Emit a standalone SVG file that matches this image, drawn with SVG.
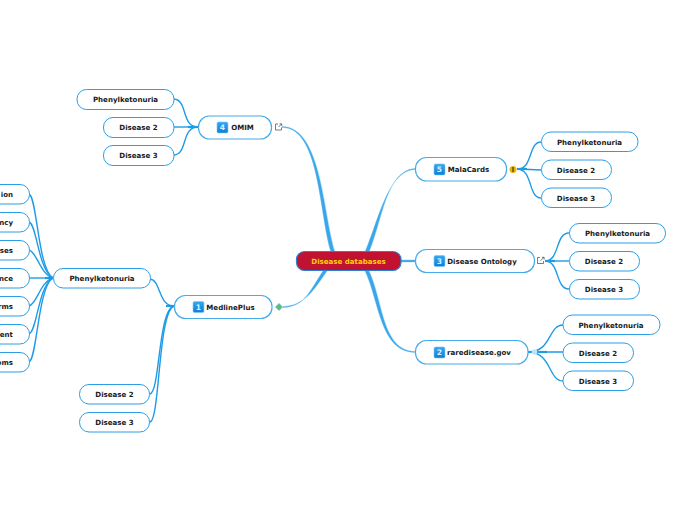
<svg xmlns="http://www.w3.org/2000/svg" width="696" height="520" viewBox="0 0 696 520">
<style>
text{font-family:"DejaVu Sans",Verdana,sans-serif;font-weight:bold;font-size:7.05px;fill:#1a1a1a;text-anchor:middle}
.e{text-anchor:end}
.n{fill:#fff;stroke:#2b9fe6;stroke-width:1}
.m{fill:#fff;stroke:#46ace9;stroke-width:1.2}
.c{fill:none;stroke:#1f9be6;stroke-width:1.4}
.s{fill:none;stroke:#1f9be6;stroke-width:2.2}
.t{fill:#3aa6ea;stroke:#6cc0f2;stroke-width:.4}
.b{fill:url(#bg);stroke:#7cc8f5;stroke-width:.6}
.bt{fill:#d9f0ff;font-size:7.6px}
.ic{fill:none;stroke:#444;stroke-width:.7}
</style>
<defs><linearGradient id="bg" x1="0" y1="0" x2="0" y2="1"><stop offset="0" stop-color="#35a8ee"/><stop offset="1" stop-color="#0b7fd8"/></linearGradient></defs>
<g id="connectors">
<path class="t" d="M335 252C323 215 322 127 282 126.500L282 127.500C320 127 319 215 331 252Z"/>
<path class="t" d="M369 252C382 222 386 170 415 168.500L415 169.500C388 170 378 222 365 252Z"/>
<path class="t" d="M401 260H415V262H401Z"/>
<path class="t" d="M369 271C383 300 382 351 415 351.500V352.500C380 352 379 300 365 271Z"/>
<path class="t" d="M327 271C314 290 304 306 283 306.500V307.500C305 307 310 290 323 271Z"/>
<path class="c" d="M174 99C188 100 181 127 198 127"/>
<path class="c" d="M174 127H198"/>
<path class="c" d="M174 155C188 154 181 127 198 127"/>
<path class="s" d="M188 127H198"/>
<path class="c" d="M517 169C533 170 528 142 541 142"/>
<path class="c" d="M517 169C530 169 530 170 541 170"/>
<path class="c" d="M517 169C533 169 528 198 541 198"/>
<path class="s" d="M517 169H527"/>
<path class="c" d="M545 261C560 261 555 233 569 233"/>
<path class="c" d="M545 261C558 261 558 261 569 261"/>
<path class="c" d="M545 261C560 261 555 289 569 289"/>
<path class="s" d="M545 261H555"/>
<path class="c" d="M528 352C552 352 548 325 563 325"/>
<path class="c" d="M528 352H563"/>
<path class="c" d="M528 352C552 352 548 381 563 381"/>
<path class="s" d="M528 352H547"/>
<path class="c" d="M150 279C161 280 158 306 174 306"/>
<path class="c" d="M150 394C160 392 158 310 174 306"/>
<path class="c" d="M150 422C160 420 158 312 174 306"/>
<path class="s" d="M166 306H174"/>
<path class="c" d="M29 194C37 196 38 270 53 278"/>
<path class="c" d="M29 222C37 224 38 270 53 278"/>
<path class="c" d="M29 250C37 252 40 274 53 278"/>
<path class="c" d="M29 278H53"/>
<path class="c" d="M29 306C37 304 40 282 53 278"/>
<path class="c" d="M29 334C37 332 38 286 53 278"/>
<path class="c" d="M29 362C37 360 38 286 53 278"/>
<path class="s" d="M45 278H53"/>
</g>
<g id="root"><rect x="296.500" y="251.500" width="104.500" height="19" rx="8" fill="#c11232" stroke="#2e7fd0" stroke-width="1.200"/><text x="348.500" y="263.800" style="fill:#ffd400">Disease databases</text></g>
<g id="malacards"><rect class="m" x="415.500" y="157.500" width="91" height="23.500" rx="11"/><rect class="b" x="434" y="164" width="11" height="11" rx="1.500"/><text class="bt" x="439.500" y="172.300">5</text><text x="468.500" y="172">MalaCards</text><circle cx="513" cy="169.500" r="3.500" fill="#eab308"/><rect x="512" y="167" width="2" height="5" fill="#7a6a10"/></g>
<g id="ontology"><rect class="m" x="415.500" y="249.500" width="119" height="23" rx="11"/><rect class="b" x="434" y="255.500" width="11" height="11" rx="1.500"/><text class="bt" x="439.500" y="263.800">3</text><text x="482" y="263.800">Disease Ontology</text><path class="ic" d="M540 257.500H537.500V263.500H543.500V261M540.500 260.500L544 257.500M542 257.300H544.200V259.500"/></g>
<g id="rare"><rect class="m" x="415.500" y="340.500" width="112.500" height="23.500" rx="11"/><rect class="b" x="434" y="347" width="11" height="11" rx="1.500"/><text class="bt" x="439.500" y="355.300">2</text><text x="479" y="355">raredisease.gov</text><circle cx="534.500" cy="352" r="2.800" fill="#bfe3f5"/></g>
<g id="medline"><rect class="m" x="174.500" y="295.500" width="97.500" height="23" rx="11"/><rect class="b" x="193" y="301.500" width="11" height="11" rx="1.500"/><text class="bt" x="198.500" y="309.800">1</text><text x="230.500" y="309.800">MedlinePlus</text><path d="M279 303.500L282.500 307L279 310.500L275.500 307Z" fill="#5cc06a" stroke="#62b6e8" stroke-width=".8"/></g>
<g id="omim"><rect class="m" x="198.500" y="116" width="73" height="23" rx="11"/><rect class="b" x="217" y="122" width="11" height="11" rx="1.500"/><text class="bt" x="222.500" y="130.300">4</text><text x="242.500" y="130">OMIM</text><path class="ic" d="M278 124H275.500V130H281.500V127.500M278.500 127L281.500 124M279.500 123.800H281.700V126"/></g>
<g id="o1"><rect class="n" x="77" y="89.500" width="97" height="20" rx="9.500"/><text x="125.500" y="102">Phenylketonuria</text></g>
<g id="o2"><rect class="n" x="103.500" y="117.500" width="70.500" height="20" rx="9.500"/><text x="138.500" y="130">Disease 2</text></g>
<g id="o3"><rect class="n" x="103.500" y="145.500" width="70.500" height="20" rx="9.500"/><text x="138.500" y="158">Disease 3</text></g>
<g id="m1"><rect class="n" x="541.500" y="132" width="96.500" height="19.500" rx="9.500"/><text x="589.500" y="144.500">Phenylketonuria</text></g>
<g id="m2"><rect class="n" x="541.500" y="160" width="70" height="19.500" rx="9.500"/><text x="576" y="172.500">Disease 2</text></g>
<g id="m3"><rect class="n" x="541.500" y="188" width="70" height="19.500" rx="9.500"/><text x="576" y="200.500">Disease 3</text></g>
<g id="d1"><rect class="n" x="569.500" y="223.500" width="96" height="19.500" rx="9.500"/><text x="617.500" y="236">Phenylketonuria</text></g>
<g id="d2"><rect class="n" x="569.500" y="251.500" width="70" height="19.500" rx="9.500"/><text x="604" y="264">Disease 2</text></g>
<g id="d3"><rect class="n" x="569.500" y="279.500" width="70" height="19.500" rx="9.500"/><text x="604" y="292">Disease 3</text></g>
<g id="r1"><rect class="n" x="563" y="315" width="97" height="19.500" rx="9.500"/><text x="611" y="327.500">Phenylketonuria</text></g>
<g id="r2"><rect class="n" x="563" y="343" width="70.500" height="19.500" rx="9.500"/><text x="598" y="355.500">Disease 2</text></g>
<g id="r3"><rect class="n" x="563" y="371" width="70.500" height="19.500" rx="9.500"/><text x="598" y="383.500">Disease 3</text></g>
<g id="p"><rect class="n" x="53.500" y="268.500" width="97" height="19.500" rx="9.500"/><text x="102" y="281">Phenylketonuria</text></g>
<g id="l2"><rect class="n" x="79.500" y="384.500" width="70" height="19.500" rx="9.500"/><text x="114.500" y="397">Disease 2</text></g>
<g id="l3"><rect class="n" x="79.500" y="412.500" width="70" height="19.500" rx="9.500"/><text x="114.500" y="425">Disease 3</text></g>
<g id="c1"><rect class="n" x="-40" y="184.500" width="69.500" height="19.500" rx="9.500"/><text class="e" x="13" y="197">ion</text></g>
<g id="c2"><rect class="n" x="-40" y="212.500" width="69.500" height="19.500" rx="9.500"/><text class="e" x="13" y="225">ncy</text></g>
<g id="c3"><rect class="n" x="-40" y="240.500" width="69.500" height="19.500" rx="9.500"/><text class="e" x="13" y="253">ses</text></g>
<g id="c4"><rect class="n" x="-40" y="268.500" width="69.500" height="19.500" rx="9.500"/><text class="e" x="13" y="281">nce</text></g>
<g id="c5"><rect class="n" x="-40" y="296.500" width="69.500" height="19.500" rx="9.500"/><text class="e" x="13" y="309">rms</text></g>
<g id="c6"><rect class="n" x="-40" y="324.500" width="69.500" height="19.500" rx="9.500"/><text class="e" x="13" y="337">ent</text></g>
<g id="c7"><rect class="n" x="-40" y="352.500" width="69.500" height="19.500" rx="9.500"/><text class="e" x="13" y="365">oms</text></g>
</svg>
